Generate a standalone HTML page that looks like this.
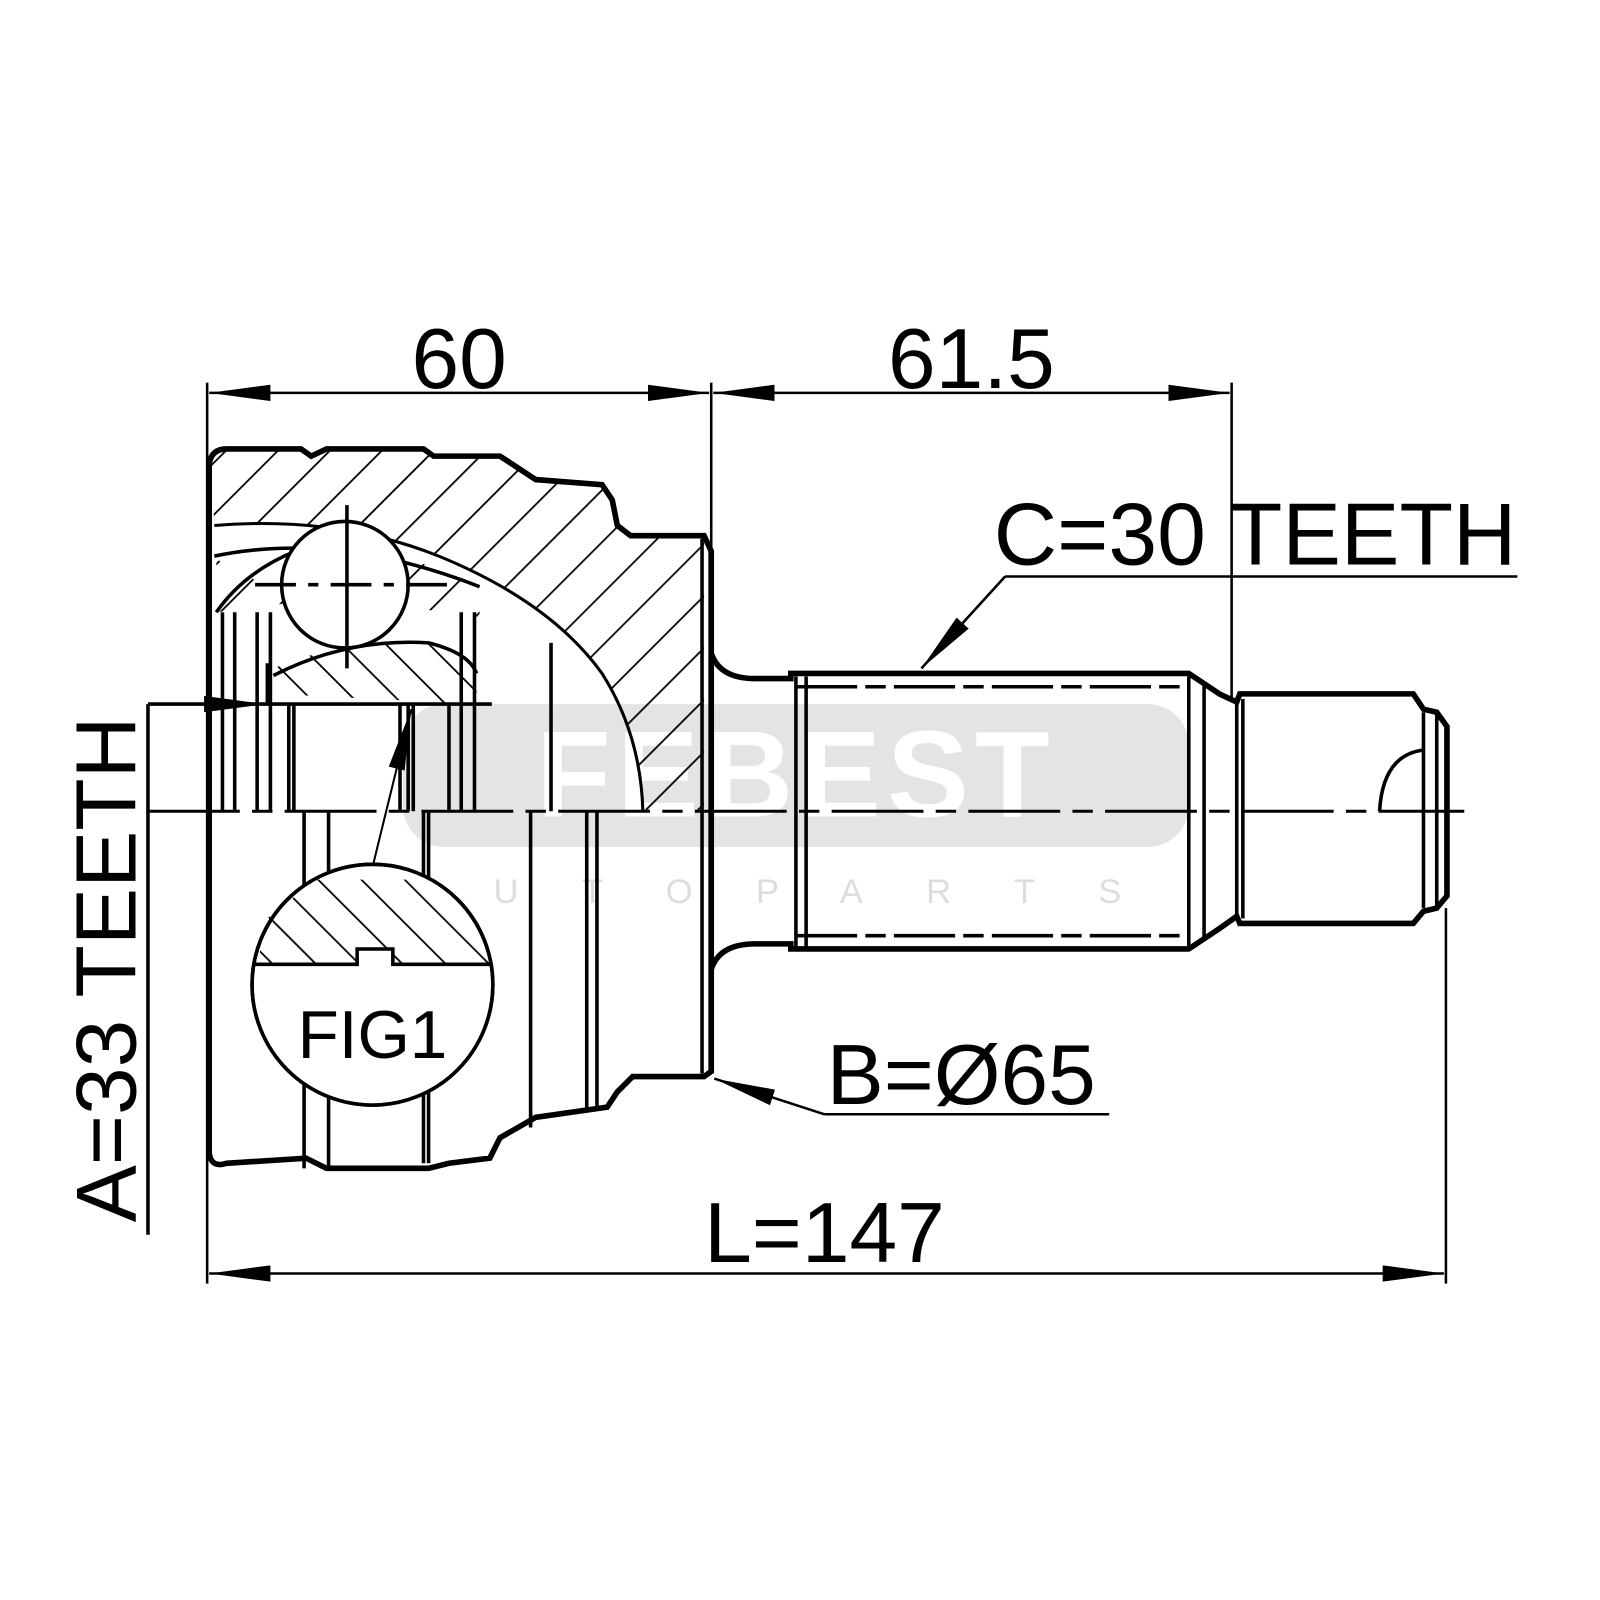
<!DOCTYPE html>
<html><head><meta charset="utf-8"><style>html,body{margin:0;padding:0;background:#fff}svg{display:block}</style></head>
<body>
<svg width="1600" height="1600" viewBox="0 0 1568 1568" preserveAspectRatio="none" xmlns="http://www.w3.org/2000/svg" font-family="Liberation Sans, Arial, sans-serif">
<defs>
<pattern id="h" patternUnits="userSpaceOnUse" width="36" height="36" patternTransform="rotate(45)">
<line x1="0" y1="0" x2="0" y2="36" stroke="#000" stroke-width="3.5"/>
</pattern>
<pattern id="h2" patternUnits="userSpaceOnUse" width="30" height="30" patternTransform="rotate(-45)">
<line x1="0" y1="0" x2="0" y2="30" stroke="#000" stroke-width="3.5"/>
</pattern>
<marker id="b" viewBox="0 0 60 16" refX="60" refY="8" markerWidth="60" markerHeight="16" markerUnits="userSpaceOnUse" orient="auto-start-reverse"><path d="M0,0L60,8L0,16z"/></marker>
</defs>
<!-- watermark -->
<rect x="395" y="690" width="770" height="140" rx="40" fill="#e4e4e4"/>
<text x="780" y="800" font-size="120" font-weight="bold" fill="#fff" text-anchor="middle" letter-spacing="6">FEBEST</text>
<text x="780" y="885" font-size="34" fill="#ddd" text-anchor="middle" letter-spacing="62">AUTOPARTS</text>

<g fill="none" stroke="#000" stroke-width="3.5">
<path d="M207,452 Q210,440 222,440 L295,440 L305,447 L320,440 L415,440 L425,447 L490,447 L525,470 L590,475 L600,490 L605,515 L618,525 L690,525 L690,795 L630,795 Q628,720 590,660 Q540,590 430,545 Q330,505 210,515 Z" fill="url(#h)" stroke="none"/>
<path d="M210,515 Q330,505 430,545 Q540,590 590,660 Q628,720 630,795" stroke-width="3"/>
<path d="M210,545 Q330,520 470,575" fill="none"/>
<path d="M212,600 Q240,560 290,540" />
<path d="M212,548 L212,600 L290,590 Z" fill="url(#h)" stroke="none"/>
<path d="M400,548 Q440,560 470,575 L470,605 L400,595 Z" fill="url(#h)" stroke="none"/>
<path d="M268,680 L268,655 Q340,625 420,630 Q460,640 467,660 L467,690 Z" fill="url(#h2)" stroke="none"/>
<path d="M268,662 Q340,625 420,630 Q460,640 467,660"/>
<circle cx="338" cy="573" r="62" fill="#fff"/>
<line x1="340" y1="495" x2="340" y2="655"/>
<path d="M250,573 L440,573" stroke-dasharray="40,12,10,12"/>
<path d="M697,540 L690,525 L618,525 L605,515 L600,490 L590,475 L525,470 L490,447 L425,447 L415,440 L320,440 L305,447 L295,440 L222,440 Q207,440 205,455 L205,1130 Q207,1145 222,1140 L300,1135 L320,1145 L420,1145 L440,1140 L480,1135 L490,1115 L525,1095 L595,1085 L605,1070 L620,1055 L690,1055 L697,1050 Z" stroke-width="5.5"/>
<line x1="697" y1="540" x2="697" y2="1050" stroke-width="5.5"/>
<line x1="688" y1="528" x2="688" y2="1052"/>
<line x1="218" y1="600" x2="218" y2="795"/><line x1="230" y1="600" x2="230" y2="795"/>
<line x1="252" y1="600" x2="252" y2="795"/><line x1="265" y1="600" x2="265" y2="795"/>
<line x1="262" y1="650" x2="262" y2="690"/>
<line x1="283" y1="690" x2="283" y2="795"/><line x1="288" y1="690" x2="288" y2="795"/>
<line x1="392" y1="690" x2="392" y2="795"/><line x1="400" y1="690" x2="400" y2="795"/><line x1="405" y1="690" x2="405" y2="795"/>
<line x1="440" y1="690" x2="440" y2="795"/><line x1="452" y1="600" x2="452" y2="795"/><line x1="465" y1="600" x2="465" y2="795"/>
<line x1="540" y1="630" x2="540" y2="795"/>
<line x1="298" y1="795" x2="298" y2="1145" /><line x1="322" y1="795" x2="322" y2="1145"/>
<line x1="415" y1="795" x2="415" y2="1140"/><line x1="420" y1="795" x2="420" y2="1140"/>
<line x1="520" y1="795" x2="520" y2="1105"/><line x1="575" y1="795" x2="575" y2="1090"/><line x1="585" y1="795" x2="585" y2="1085"/>
<line x1="145" y1="690" x2="482" y2="690"/>
<line x1="145" y1="690" x2="260" y2="690" marker-end="url(#b)" stroke-width="2"/>
<line x1="145" y1="690" x2="145" y2="1210"/>
<line x1="365" y1="850" x2="403" y2="695" marker-end="url(#b)" stroke-width="2"/>
<circle cx="365" cy="965" r="118" fill="#fff"/>
<path d="M252,945 L350,945 L350,930 L385,930 L385,945 L480,945 L470,900 L420,862 L310,862 L262,900 Z" fill="url(#h2)" stroke="none"/>
<path d="M250,945 L350,945 L350,930 L385,930 L385,945 L482,945"/>
<circle cx="365" cy="965" r="118"/>
<path d="M697,640 Q705,665 740,665 L775,665 L775,660 L1165,660 L1195,680 L1212,688 L1215,680 L1385,680 L1395,695 L1408,698 L1418,712 L1418,878 L1408,890 L1395,893 L1385,905 L1215,905 L1212,898 L1195,910 L1165,930 L775,930 L775,925 L740,925 Q705,925 697,950" stroke-width="5.5"/>
<line x1="780" y1="663" x2="780" y2="928"/><line x1="790" y1="663" x2="790" y2="928"/>
<line x1="1165" y1="663" x2="1165" y2="928"/><line x1="1180" y1="668" x2="1180" y2="922"/>
<line x1="1212" y1="690" x2="1212" y2="900"/><line x1="1218" y1="685" x2="1218" y2="900"/>
<line x1="1395" y1="698" x2="1395" y2="890"/><line x1="1408" y1="700" x2="1408" y2="888"/>
<path d="M780,673 L1165,673 M780,917 L1165,917" stroke-dasharray="60,8,20,8"/>
<path d="M1352,795 Q1355,740 1395,735"/>
<path d="M145,795 L1435,795" stroke-dasharray="90,12,20,12" stroke-width="3"/>
<line x1="203" y1="375" x2="203" y2="1258" stroke-width="2.5"/>
<line x1="697" y1="375" x2="697" y2="540" stroke-width="2.5"/>
<line x1="1207" y1="375" x2="1207" y2="685" stroke-width="2.5"/>
<line x1="1417" y1="890" x2="1417" y2="1258" stroke-width="2.5"/>
<line x1="205" y1="385" x2="695" y2="385" marker-start="url(#b)" marker-end="url(#b)" stroke-width="2.5"/>
<line x1="699" y1="385" x2="1205" y2="385" marker-start="url(#b)" marker-end="url(#b)" stroke-width="2.5"/>
<line x1="205" y1="1248" x2="1415" y2="1248" marker-start="url(#b)" marker-end="url(#b)" stroke-width="2.5"/>
<line x1="985" y1="565" x2="1487" y2="565" stroke-width="2.5"/>
<line x1="985" y1="565" x2="903" y2="655" marker-end="url(#b)" stroke-width="2.5"/>
<line x1="808" y1="1092" x2="1087" y2="1092" stroke-width="2.5"/>
<line x1="808" y1="1092" x2="700" y2="1057" marker-end="url(#b)" stroke-width="2.5"/>
</g>
<g fill="#000" font-size="84" text-anchor="middle">
<text x="450" y="380">60</text>
<text x="952" y="380">61.5</text>
<text x="1230" y="553" font-size="86">C=30 TEETH</text>
<text x="942" y="1082">B=Ø65</text>
<text x="808" y="1237">L=147</text>
<text x="365" y="1037" font-size="66">FIG1</text>
<text transform="translate(133,950) rotate(-90)" font-size="84">A=33 TEETH</text>
</g>
</svg>
</body></html>
